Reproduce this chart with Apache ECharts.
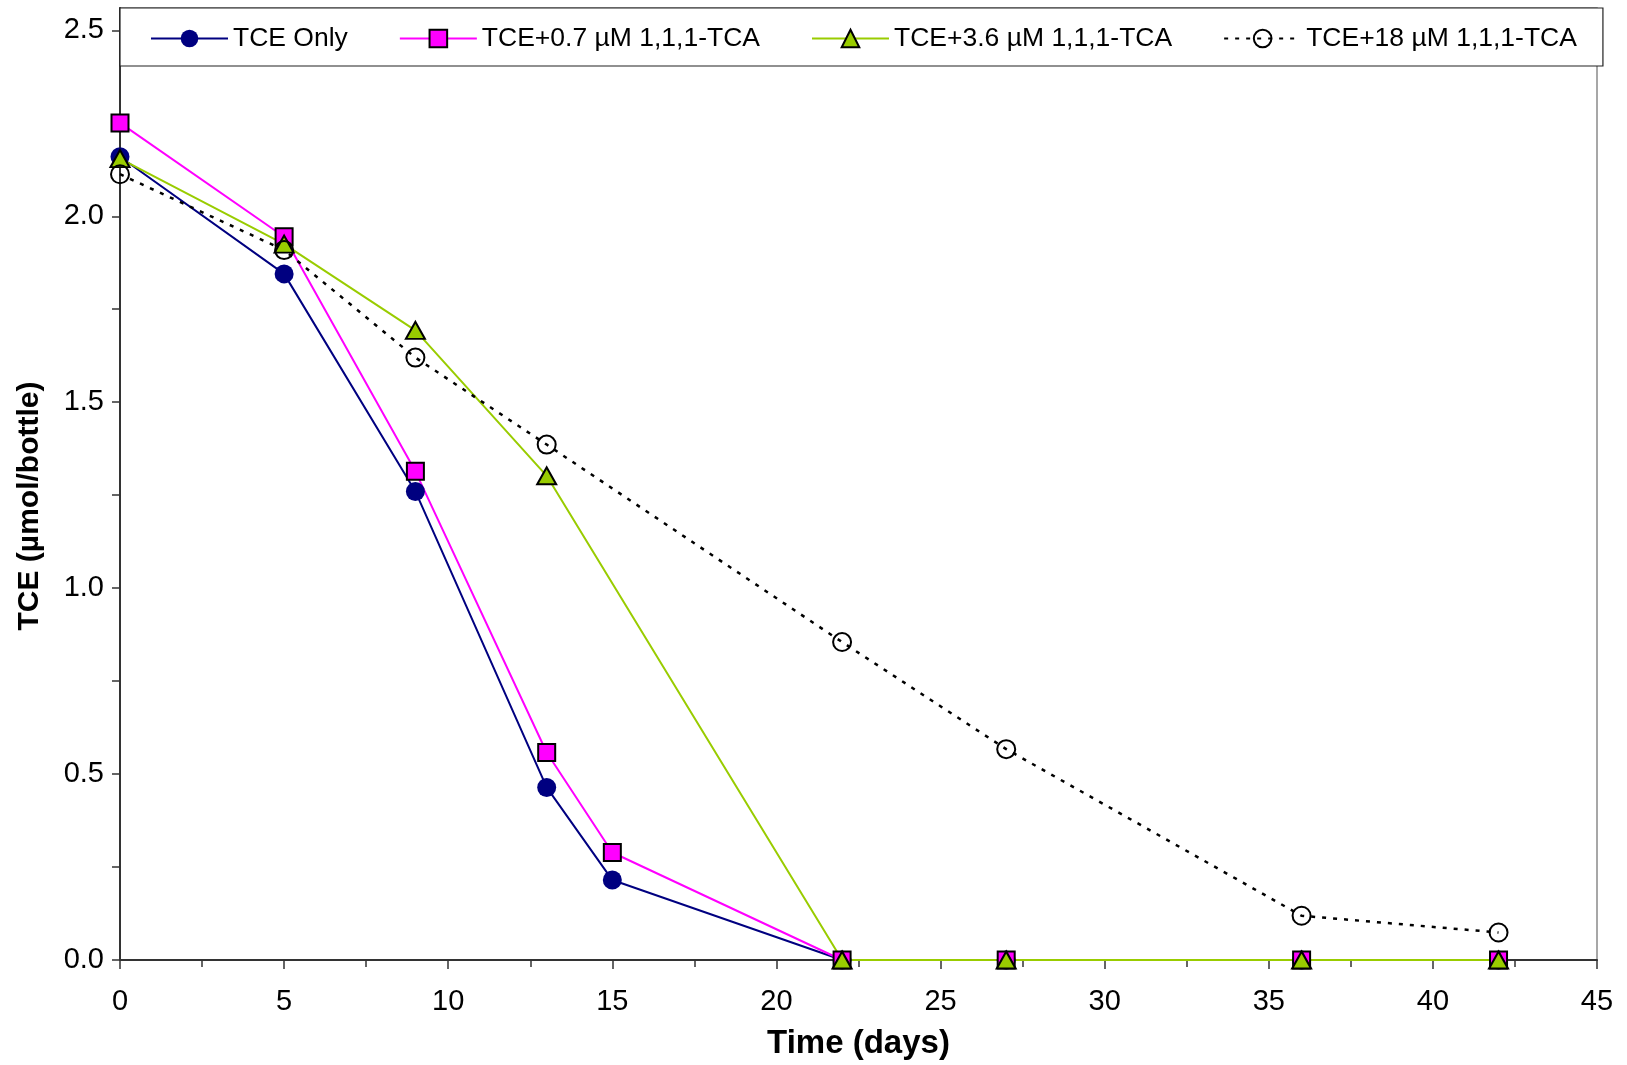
<!DOCTYPE html>
<html>
<head>
<meta charset="utf-8">
<script src="https://cdn.jsdelivr.net/npm/echarts@6/dist/echarts.min.js"></script>
<style>
html,body{margin:0;padding:0;background:#fff;}
#chart{width:1627px;height:1065px;}
</style>
</head>
<body>
<div id="chart"></div>
<script>
// ---- data ----
const seriesNames = ['TCE Only', 'TCE+0.7 µM 1,1,1-TCA', 'TCE+3.6 µM 1,1,1-TCA', 'TCE+18 µM 1,1,1-TCA'];
const daysA = [0, 5, 9, 13, 15, 22, 27, 36, 42];
const daysB = [0, 5, 9, 13, 22, 27, 36, 42];
const tceOnly = [2.160, 1.845, 1.260, 0.464, 0.215, 0, 0, 0, 0];
const tce07 = [2.251, 1.945, 1.314, 0.558, 0.289, 0, 0, 0, 0];
const tce36 = [2.155, 1.925, 1.693, 1.302, 0, 0, 0, 0];
const tce18 = [2.113, 1.909, 1.620, 1.386, 0.855, 0.567, 0.119, 0.074];
const yLabelValues = [0, 0.5, 1.0, 1.5, 2.0, 2.5];
const yTickValues = [0, 0.25, 0.5, 0.75, 1.0, 1.25, 1.5, 1.75, 2.0, 2.25, 2.5];

const pairs = (xs, ys) => xs.map((x, i) => [x, ys[i]]);

const FONT = 'Liberation Sans, Arial, sans-serif';
const chart = echarts.init(document.getElementById('chart'), null, {renderer: 'canvas'});

chart.setOption({
  animation: false,
  backgroundColor: '#fff',
  textStyle: {fontFamily: FONT},
  grid: {
    left: 120, right: 30, top: 8, bottom: 104,
    show: true, borderColor: '#8a8a8a', borderWidth: 1.5, backgroundColor: 'transparent'
  },
  legend: {
    left: 120, top: 8,
    padding: [17, 26, 14, 30],
    itemGap: 51,
    itemWidth: 77, itemHeight: 22,
    backgroundColor: '#fff',
    borderColor: '#222', borderWidth: 1.2,
    textStyle: {fontFamily: FONT, fontSize: 26.5, color: '#000'},
    data: seriesNames
  },
  xAxis: {
    type: 'value', min: 0, max: 45, interval: 5,
    name: 'Time (days)', nameLocation: 'middle', nameGap: 67,
    nameTextStyle: {fontFamily: FONT, fontSize: 33, fontWeight: 'bold', color: '#000'},
    axisLine: {show: true, lineStyle: {color: '#333', width: 2}},
    axisTick: {show: true, length: 9, lineStyle: {color: '#333', width: 1.5}},
    minorTick: {show: true, splitNumber: 2, length: 7, lineStyle: {color: '#333', width: 1.5}},
    axisLabel: {fontFamily: FONT, fontSize: 29, color: '#000', margin: 27},
    splitLine: {show: false}
  },
  yAxis: {
    type: 'value', min: 0, max: 2.56,
    name: 'TCE (µmol/bottle)', nameLocation: 'middle', nameGap: 75,
    nameTextStyle: {fontFamily: FONT, fontSize: 30, fontWeight: 'bold', color: '#000', padding: [0, 44, 0, 0]},
    axisLine: {show: true, lineStyle: {color: '#333', width: 2}},
    axisTick: {show: true, length: 8, customValues: yTickValues, lineStyle: {color: '#333', width: 1.5}},
    axisLabel: {fontFamily: FONT, fontSize: 29, color: '#000', margin: 16,
      customValues: yLabelValues, formatter: v => Number(v).toFixed(1)},
    splitLine: {show: false}
  },
  series: [
    {
      name: seriesNames[0], type: 'line', data: pairs(daysA, tceOnly),
      symbol: 'circle', symbolSize: 19,
      itemStyle: {color: '#000080'},
      lineStyle: {color: '#000080', width: 2}
    },
    {
      name: seriesNames[1], type: 'line', data: pairs(daysA, tce07),
      symbol: 'rect', symbolSize: 17,
      itemStyle: {color: '#ff00ff', borderColor: '#000', borderWidth: 2},
      lineStyle: {color: '#ff00ff', width: 2}
    },
    {
      name: seriesNames[2], type: 'line', data: pairs(daysB, tce36),
      symbol: 'triangle', symbolSize: [19, 17],
      itemStyle: {color: '#99cc00', borderColor: '#000', borderWidth: 2},
      lineStyle: {color: '#99cc00', width: 2}
    },
    {
      name: seriesNames[3], type: 'line', data: pairs(daysB, tce18),
      symbol: 'circle', symbolSize: 18,
      itemStyle: {color: 'rgba(255,255,255,0)', borderColor: '#000', borderWidth: 2},
      lineStyle: {color: '#000', width: 2.5, type: [4, 7]}
    }
  ]
});
</script>
</body>
</html>
